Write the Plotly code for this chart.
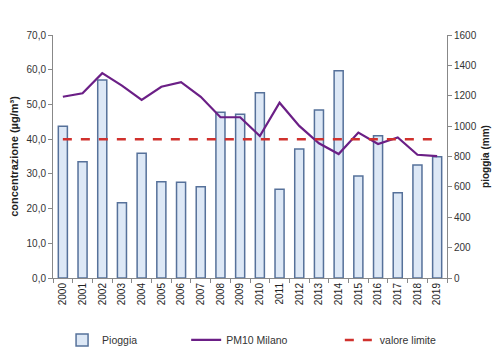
import plotly.graph_objects as go

anni = [str(y) for y in range(2000, 2020)]
pioggia_mm = [1000, 766, 1304, 496, 821, 634, 630, 601, 1091, 1078,
              1220, 584, 849, 1106, 1365, 672, 937, 562, 744, 799]
pm10_milano = [52.2, 53.2, 59.0, 55.4, 51.3, 55.1, 56.4, 52.2, 46.3, 46.3,
               40.9, 50.5, 43.8, 38.8, 35.7, 41.9, 38.6, 40.5, 35.5, 35.1]
valore_limite = [40] * len(anni)

font_fam = "Liberation Sans, Arial, sans-serif"

fig = go.Figure()
fig.add_trace(go.Bar(
    x=anni, y=pioggia_mm, name="Pioggia", yaxis="y", legend="legend",
    marker=dict(color="#dde8f6", line=dict(color="#56719a", width=1.5)),
))
fig.add_trace(go.Scatter(
    x=anni, y=pm10_milano, name="PM10 Milano", yaxis="y2", mode="lines",
    legend="legend2",
    line=dict(color="#6b1f86", width=2.2),
))
fig.add_trace(go.Scatter(
    x=anni, y=valore_limite, name="valore limite", yaxis="y2", mode="lines",
    legend="legend3",
    line=dict(color="#d0312d", width=2.5, dash="dash"),
))

leg_common = dict(orientation="h", xanchor="left", yref="container",
                  y=0.057, yanchor="middle",
                  font=dict(size=10.5, color="#333333"), itemwidth=30,
                  bgcolor="rgba(0,0,0,0)")

fig.update_layout(
    width=492, height=352,
    margin=dict(l=45, r=53, t=27, b=82),
    paper_bgcolor="white", plot_bgcolor="white",
    separators=",.",
    bargap=0.54,
    showlegend=True,
    font=dict(family=font_fam, size=10, color="#333333"),
    xaxis=dict(
        type="category", tickangle=-90, showline=True, linecolor="#888888",
        ticks="outside", tickson="boundaries", ticklen=4, tickcolor="#888888",
        range=[-0.5, 19.5], tickfont=dict(size=10, color="#222222"),
        automargin=False,
    ),
    yaxis=dict(
        side="right", range=[0, 1600], dtick=200, tickformat="d",
        showline=True, linecolor="#888888", ticks="outside", ticklen=4,
        tickcolor="#888888", showgrid=False, zeroline=False,
        title=dict(text="<b>pioggia (mm)</b>", font=dict(size=10, color="#222222"), standoff=6),
        tickfont=dict(size=10, color="#333333"), automargin=False,
    ),
    yaxis2=dict(
        side="left", overlaying="y", range=[0, 70], dtick=10, tickformat=".1f",
        showline=True, linecolor="#888888", ticks="outside", ticklen=4,
        tickcolor="#888888", showgrid=False, zeroline=False,
        title=dict(text="<b>concentrazione (µg/m³)</b>", font=dict(size=11, color="#222222"), standoff=6),
        tickfont=dict(size=10, color="#333333"), automargin=False,
    ),
    legend=dict(x=0.023, **leg_common),
    legend2=dict(x=0.338, **leg_common),
    legend3=dict(x=0.728, **leg_common),
)

fig.write_html("out.html")
